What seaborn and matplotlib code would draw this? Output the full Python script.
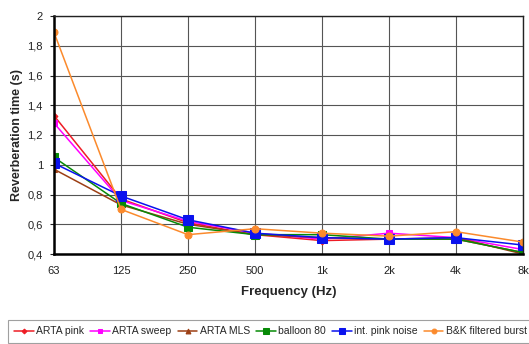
import matplotlib
matplotlib.use("Agg")
import matplotlib.pyplot as plt
import seaborn as sns
import pandas as pd
import numpy as np

# Octave-band centre frequencies
freq_labels = ["63", "125", "250", "500", "1k", "2k", "4k", "8k"]

# Reverberation time (s) per measurement method
arta_pink = [1.33, 0.77, 0.61, 0.53, 0.49, 0.50, 0.50, 0.41]
arta_sweep = [1.28, 0.76, 0.62, 0.54, 0.50, 0.54, 0.51, 0.43]
arta_mls = [0.97, 0.73, 0.60, 0.53, 0.51, 0.50, 0.51, 0.40]
balloon_80 = [1.05, 0.74, 0.58, 0.53, 0.53, 0.50, 0.50, 0.41]
int_pink_noise = [1.01, 0.79, 0.63, 0.54, 0.51, 0.50, 0.51, 0.46]
bk_filtered_burst = [1.89, 0.70, 0.53, 0.57, 0.54, 0.52, 0.55, 0.48]

series_names = ["ARTA pink", "ARTA sweep", "ARTA MLS", "balloon 80",
                "int. pink noise", "B&K filtered burst"]
series_values = [arta_pink, arta_sweep, arta_mls, balloon_80,
                 int_pink_noise, bk_filtered_burst]
colors = ["#ee1c25", "#ff00ff", "#9c3f14", "#078a07", "#0a12ee", "#fb8a2c"]
markers = ["D", "s", "^", "s", "s", "o"]
msizes = [3.5, 5, 5, 6, 6.5, 5]

rows = []
for name, vals in zip(series_names, series_values):
    for i, v in enumerate(vals):
        rows.append({"pos": i, "freq": freq_labels[i], "rt": v, "method": name})
df = pd.DataFrame(rows)

sns.set_style("white")
plt.rcParams["font.family"] = ["Liberation Sans", "DejaVu Sans"]

fig = plt.figure(figsize=(5.29, 3.44), dpi=100)
ax = fig.add_axes([54 / 529, 1 - 254 / 344, (523 - 54) / 529, (254 - 16) / 344])

for name, col, mk, ms in zip(series_names, colors, markers, msizes):
    sub = df[df["method"] == name]
    sns.lineplot(data=sub, x="pos", y="rt", ax=ax, color=col, marker=mk,
                 markersize=ms, markeredgecolor=col, linewidth=1.1,
                 label=name, legend=False)

ax.set_xlim(0, len(freq_labels) - 1)
ax.set_ylim(0.4, 2.0)
ax.set_xticks(range(len(freq_labels)))
ax.set_xticklabels(freq_labels)
yt = np.round(np.arange(0.4, 2.01, 0.2), 1)
ax.set_yticks(yt)
ax.set_yticklabels(["%g" % t if float(t).is_integer() else ("%.1f" % t).replace(".", ",")
                    for t in yt])

ax.grid(True, color="#555555", linewidth=0.8)
ax.set_axisbelow(True)
for side in ["top", "right"]:
    ax.spines[side].set_color("#222222")
    ax.spines[side].set_linewidth(1.0)
for side in ["left", "bottom"]:
    ax.spines[side].set_color("black")
    ax.spines[side].set_linewidth(1.8)

ax.tick_params(axis="both", labelsize=8, colors="#222222", length=3,
               direction="out", left=True, bottom=False, pad=5)
ax.tick_params(axis="x", pad=6)
ax.set_xlabel("Frequency (Hz)", fontsize=9.5, fontweight="bold", labelpad=7)
ax.set_ylabel("Reverberation time (s)", fontsize=9, fontweight="bold", labelpad=3)

handles, labels = ax.get_legend_handles_labels()
leg = fig.legend(handles, labels, loc="upper left",
                 bbox_to_anchor=(8 / 529, 1 - 320 / 344), ncol=6,
                 fontsize=7.5, frameon=True, fancybox=False,
                 edgecolor="#888888", handlelength=1.9, handletextpad=0.2,
                 columnspacing=0.6, borderpad=0.6, borderaxespad=0,
                 markerscale=0.7)
leg.get_frame().set_linewidth(0.8)

fig.savefig("out.png", dpi=100)
